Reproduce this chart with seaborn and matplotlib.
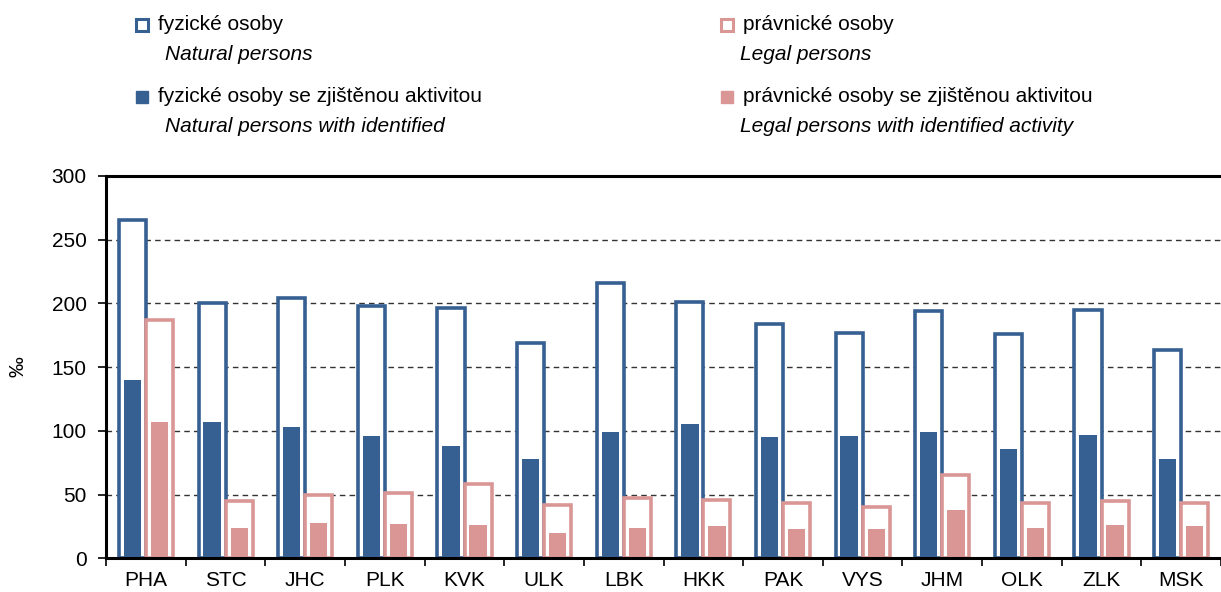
import pandas as pd
import matplotlib
matplotlib.use("Agg")
import matplotlib.pyplot as plt
from matplotlib.lines import Line2D
import seaborn as sns

regions = ["PHA", "STC", "JHC", "PLK", "KVK", "ULK", "LBK",
           "HKK", "PAK", "VYS", "JHM", "OLK", "ZLK", "MSK"]
natural = [265, 200, 204, 198, 196, 169, 216, 201, 184, 177, 194, 176, 195, 163]
natural_active = [140, 107, 103, 96, 88, 78, 99, 105, 95, 96, 99, 86, 97, 78]
legal = [187, 45, 50, 51, 58, 42, 47, 46, 43, 40, 65, 43, 45, 43]
legal_active = [107, 24, 28, 27, 26, 20, 24, 25, 23, 23, 38, 24, 26, 25]

BLUE = "#376092"
PINK = "#D99694"

total = pd.DataFrame({
    "region": regions * 2,
    "value": natural + legal,
    "group": ["natural"] * len(regions) + ["legal"] * len(regions),
})
active = pd.DataFrame({
    "region": regions * 2,
    "value": natural_active + legal_active,
    "group": ["natural"] * len(regions) + ["legal"] * len(regions),
})
palette = {"natural": BLUE, "legal": PINK}

sns.set_theme(style="white")
plt.rcParams["font.family"] = ["Liberation Sans", "DejaVu Sans"]
plt.rcParams["text.color"] = "black"
plt.rcParams["xtick.color"] = "black"
plt.rcParams["ytick.color"] = "black"

fig = plt.figure(figsize=(12.21, 5.92), dpi=100)
ax = fig.add_axes([0.087, 0.057, 0.913, 0.646])

# outlined bars (all persons)
sns.barplot(data=total, x="region", y="value", hue="group", palette=palette,
            width=0.68, saturation=1, legend=False, ax=ax, errorbar=None)
for cont in ax.containers:
    for p in cont:
        c = p.get_facecolor()
        p.set_facecolor("white")
        p.set_edgecolor(c)
        p.set_linewidth(2.6)

# filled bars (persons with identified activity)
sns.barplot(data=active, x="region", y="value", hue="group", palette=palette,
            width=0.68, gap=0.36, saturation=1, legend=False, ax=ax, errorbar=None)
for p in ax.containers[2].patches + ax.containers[3].patches:
    p.set_linewidth(0)

ax.set_ylim(0, 300)
ax.set_xlim(-0.5, len(regions) - 0.5)
ax.set_yticks(range(0, 301, 50))
ax.set_axisbelow(True)
ax.yaxis.grid(True, linestyle=(0, (4, 3)), color="#333333", linewidth=1)
ax.set_xlabel("")
ax.set_ylabel("")
fig.text(18 / 1221, 1 - 367 / 592, "‰", fontsize=15, rotation=90, ha="center", va="center")

ax.set_xticks([i - 0.5 for i in range(len(regions) + 1)], minor=True)
ax.set_xticks(range(len(regions)))
ax.set_xticklabels(regions)
ax.tick_params(axis="x", which="major", length=0, labelsize=15, pad=9)
ax.tick_params(axis="x", which="minor", length=6, width=1.2, color="black", direction="out", bottom=True)
ax.tick_params(axis="y", length=6, width=1.2, color="black", direction="out", left=True,
               labelsize=15, pad=8)

for side in ["top", "left", "bottom"]:
    ax.spines[side].set_color("black")
    ax.spines[side].set_linewidth(2.2)
ax.spines["right"].set_visible(False)

# legend built by hand: Czech label + English italic line
def legend_item(x, y, color, hollow, cz, en, en_dx):
    W, H = 1221, 592
    if hollow:
        m = Line2D([x / W], [1 - y / H], marker="s", markersize=8, markerfacecolor="white",
                   markeredgecolor=color, markeredgewidth=2.2, linestyle="none",
                   transform=fig.transFigure)
    else:
        m = Line2D([x / W], [1 - y / H], marker="s", markersize=9, markerfacecolor=color,
                   markeredgecolor=color, linestyle="none", transform=fig.transFigure)
    fig.add_artist(m)
    fig.text((x + 16) / W, 1 - y / H, cz, fontsize=15, va="center", ha="left")
    fig.text((x + en_dx) / W, 1 - (y + 30) / H, en, fontsize=15, va="center",
             ha="left", style="italic")

legend_item(142, 25, BLUE, True, "fyzické osoby", "Natural persons", 23)
legend_item(142, 97, BLUE, False, "fyzické osoby se zjištěnou aktivitou",
            "Natural persons with identified", 23)
legend_item(727, 25, PINK, True, "právnické osoby", "Legal persons", 13)
legend_item(727, 97, PINK, False, "právnické osoby se zjištěnou aktivitou",
            "Legal persons with identified activity", 13)

fig.savefig("out.png", dpi=100)
